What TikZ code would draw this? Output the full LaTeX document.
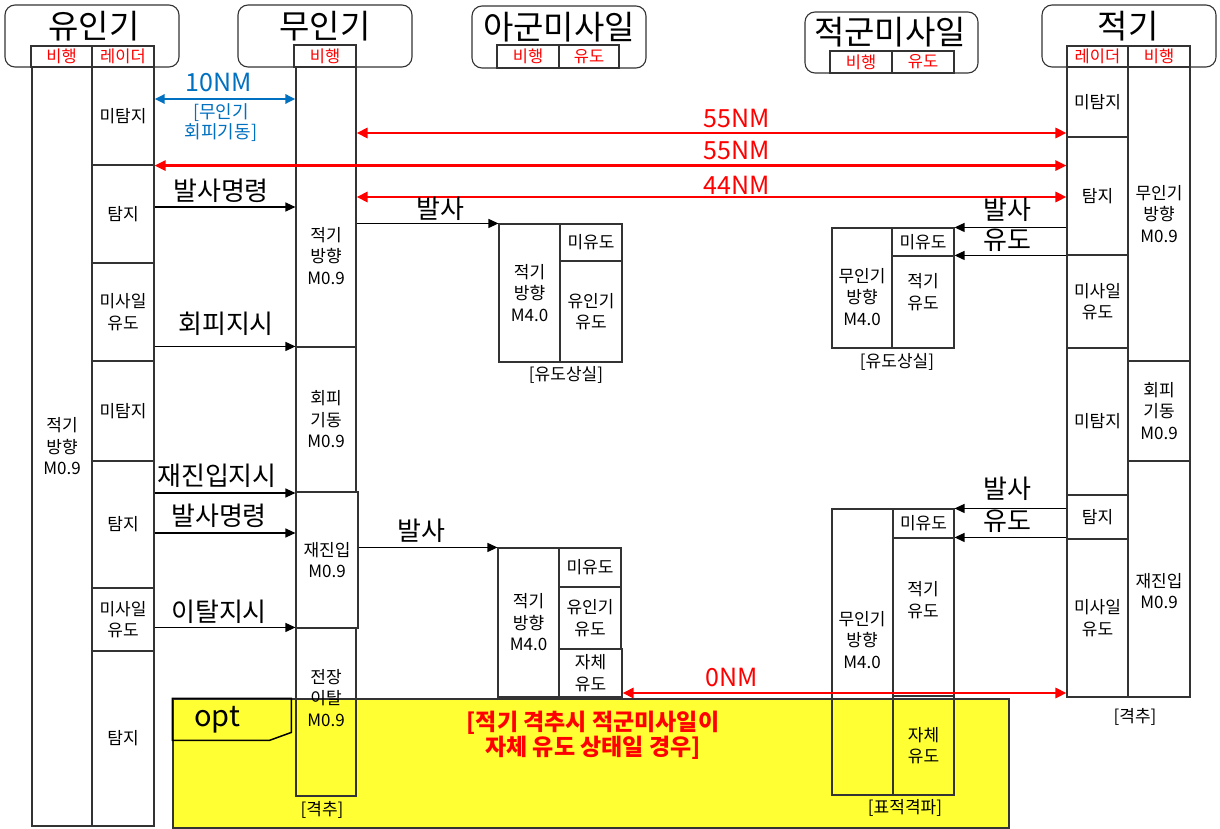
\documentclass[tikz,border=0pt]{standalone}
\usepackage{fontspec}
\setmainfont{Noto Sans CJK KR}
\usetikzlibrary{arrows.meta}
\definecolor{myred}{RGB}{255,0,0}
\definecolor{myblue}{RGB}{0,112,192}
\definecolor{myyellow}{RGB}{255,255,51}
\newcommand\fs[2]{\fontsize{#1}{#2}\selectfont}
\newcommand\mkbox[7][]{\node[box,#1,minimum width={(#5)-(#3)},minimum height={(#6)-(#4)}] (#2) at ({((#3)+(#5))/2},{((#4)+(#6))/2}) {#7};}
\tikzset{
  box/.style={draw=black!80, line width=1.1pt, inner sep=0pt, align=center, font=\fs{17}{21.5}},
  hdr/.style={rounded corners=10pt},
  sub/.style={text=myred, font=\fs{16.5}{18}},
  htext/.style={font=\fs{33}{36}, inner sep=0pt},
  txt/.style={font=\fs{17}{21.5}, inner sep=0pt, align=center},
  lbl/.style={font=\fs{26}{28}, inner sep=0pt},
  rlbl/.style={font=\fs{25}{27}, text=myred, inner sep=0pt},
  arr/.style={draw=black, line width=1.2pt, -{Triangle[length=10pt,width=9pt]}},
  rarr/.style={draw=myred, line width=2.8pt, {Triangle[length=11pt,width=10pt]}-{Triangle[length=11pt,width=10pt]}},
  barr/.style={draw=myblue, line width=2.6pt, {Triangle[length=10pt,width=9pt]}-{Triangle[length=10pt,width=9pt]}},
}
\begin{document}
\begin{tikzpicture}[x=1pt,y=-1pt]
\fill[white] (0,0) rectangle (1220,829);
\useasboundingbox (0,0) rectangle (1220,829);
% opt frame
\node[fill=myyellow, draw=black!80, line width=1.2pt, minimum width=836, minimum height=129, inner sep=0pt] (optframe) at (591,763.5) {};
\draw[line width=1.5pt, black] (optframe.north west) -- ++(119,0) -- ++(0,34) -- ++(-22,8) -- ++(-97,0) -- cycle;
\node[font=\fs{29}{30}, inner sep=0pt] (optt) at (217,720) {opt};
\node[font=\fs{23}{25}\bfseries, text=myred, align=center, inner sep=0pt] (cond) at (593,735) {[적기 격추시 적군미사일이\\자체 유도 상태일 경우]};
% headers
\mkbox[hdr]{hU}{5}{5}{179}{67}{}
\mkbox[hdr]{hM}{238}{5}{412}{67}{}
\mkbox[hdr]{hA}{472}{6}{646}{68}{}
\mkbox[hdr]{hE}{805}{12}{978}{73}{}
\mkbox[hdr]{hT}{1042}{5}{1216}{67}{}
\node[htext] (hUt) at (94,26) {유인기};
\node[htext] (hMt) at (325,26) {무인기};
\node[htext] (hAt) at (559,27) {아군미사일};
\node[htext] (hEt) at (890,32) {적군미사일};
\node[htext] (hTt) at (1128,26) {적기};
\mkbox[sub]{sU1}{31}{46}{92}{67}{비행}
\mkbox[sub]{sU2}{92}{46}{154}{67}{레이더}
\mkbox[sub]{sM1}{294}{45}{356}{67}{비행}
\mkbox[sub]{sA1}{497}{45}{559}{68}{비행}
\mkbox[sub]{sA2}{559}{45}{619}{68}{유도}
\mkbox[sub]{sE1}{830}{51}{892}{73}{비행}
\mkbox[sub]{sE2}{892}{51}{954}{73}{유도}
\mkbox[sub]{sT1}{1067}{46}{1128}{67}{레이더}
\mkbox[sub]{sT2}{1128}{46}{1190}{67}{비행}
% 유인기
\mkbox{uF}{32}{67}{92}{826}{적기\\방향\\M0.9}
\mkbox{uR1}{92}{67}{154}{165}{미탐지}
\mkbox{uR2}{92}{165}{154}{263}{탐지}
\mkbox{uR3}{92}{263}{154}{361}{미사일\\유도}
\mkbox{uR4}{92}{361}{154}{461}{미탐지}
\mkbox{uR5}{92}{461}{154}{588}{탐지}
\mkbox{uR6}{92}{588}{154}{651}{미사일\\유도}
\mkbox{uR7}{92}{651}{154}{826}{탐지}
% 무인기
\mkbox{m1}{296}{67}{356}{347}{}
\node[txt] (m1t) at (326,256) {적기\\방향\\M0.9};
\mkbox{m2}{296}{347}{356}{492}{회피\\기동\\M0.9}
\mkbox{m3}{296}{492}{358}{628}{재진입\\M0.9}
\mkbox{m4}{296}{628}{356}{796}{}
\node[txt] (m4t) at (326,698) {전장\\이탈\\M0.9};
\node[txt] (m4c) at (322,810) {[격추]};
% 아군미사일 upper
\mkbox{a1L}{499}{224}{560}{362}{적기\\방향\\M4.0}
\mkbox{a1U}{560}{224}{622}{261}{미유도}
\mkbox{a1G}{560}{261}{622}{362}{유인기\\유도}
\node[txt] (a1c) at (566,375) {[유도상실]};
% 아군미사일 lower
\mkbox{a2L}{498}{548}{559}{697}{적기\\방향\\M4.0}
\mkbox{a2U}{559}{548}{621}{587}{미유도}
\mkbox{a2G}{559}{587}{621}{649}{유인기\\유도}
\mkbox{a2S}{559}{649}{622}{697}{자체\\유도}
% 적군미사일 upper
\mkbox{e1L}{832}{228}{892}{348}{}
\node[txt] (e1Lt) at (862,297) {무인기\\방향\\M4.0};
\mkbox{e1U}{892}{228}{954}{256}{미유도}
\mkbox{e1G}{892}{256}{954}{348}{}
\node[txt] (e1Gt) at (923,292) {적기\\유도};
\node[txt] (e1c) at (897,362) {[유도상실]};
% 적군미사일 lower
\mkbox{e2L}{832}{509}{893}{795}{}
\node[txt] (e2Lt) at (862,640) {무인기\\방향\\M4.0};
\mkbox{e2U}{893}{509}{954}{538}{미유도}
\mkbox{e2G}{893}{538}{954}{696}{}
\node[txt] (e2Gt) at (923,600) {적기\\유도};
\mkbox{e2S}{893}{696}{954}{795}{자체\\유도}
\node[txt] (e2c) at (905,808) {[표적격파]};
% 적기
\mkbox{tR1}{1067}{67}{1128}{137}{미탐지}
\mkbox{tR2}{1067}{137}{1128}{255}{탐지}
\mkbox{tR3}{1067}{255}{1128}{348}{미사일\\유도}
\mkbox{tR4}{1067}{348}{1128}{495}{미탐지}
\mkbox{tR5}{1067}{495}{1128}{539}{탐지}
\mkbox{tR6}{1067}{539}{1128}{697}{미사일\\유도}
\mkbox{tF1}{1128}{67}{1190}{361}{무인기\\방향\\M0.9}
\mkbox{tF2}{1128}{361}{1190}{461}{회피\\기동\\M0.9}
\mkbox{tF3}{1128}{461}{1190}{697}{}
\node[txt] (tF3t) at (1159,591) {재진입\\M0.9};
\node[txt] (tc) at (1135,717) {[격추]};
% blue arrow
\draw[barr] (uR1.east |- 0,99) -- (m1.west |- 0,99);
\node[font=\fs{25}{27}, text=myblue, inner sep=0pt] (l10) at (219,83) {10NM};
\node[txt, text=myblue, font=\fs{18}{20}] (l10b) at (221,123) {[무인기\\회피기동]};
% red arrows
\draw[rarr] (m1.east |- 0,133) -- (tR1.west |- 0,133);
\draw[rarr] (uR1.south east) -- (tR2.west |- uR1.south);
\draw[rarr] (m1.east |- 0,197) -- (tR2.west |- 0,197);
\draw[rarr] (a2S.east |- 0,693) -- (tR6.west |- 0,693);
\node[rlbl] (r1) at (737,119) {55NM};
\node[rlbl] (r2) at (737,151) {55NM};
\node[rlbl] (r3) at (737,185) {44NM};
\node[rlbl] (r4) at (732,677) {0NM};
% black arrows
\draw[arr] (uR2.east |- 0,207) -- (m1.west |- 0,207);
\draw[arr] (m1.east |- a1L.north) -- (a1L.north west);
\draw[arr] (uR3.east |- m2.north) -- (m2.north west);
\draw[arr] (uR5.east |- 0,493) -- (m3.west |- 0,493);
\draw[arr] (uR5.east |- 0,533) -- (m3.west |- 0,533);
\draw[arr] (m3.east |- a2L.north) -- (a2L.north west);
\draw[arr] (uR6.east |- m4.north) -- (m4.north west);
\draw[arr] (tR2.west |- e1U.north) -- (e1U.north east);
\draw[arr] (tR3.west |- e1G.north) -- (e1G.north east);
\draw[arr] (tR5.west |- e2U.north) -- (e2U.north east);
\draw[arr] (tR5.west |- e2G.north) -- (e2G.north east);
\node[lbl] (b1) at (221,191) {발사명령};
\node[lbl] (b2) at (440,209) {발사};
\node[lbl] (b3) at (226,324) {회피지시};
\node[lbl] (b4) at (217,476) {재진입지시};
\node[lbl] (b5) at (219,516) {발사명령};
\node[lbl] (b6) at (421,531) {발사};
\node[lbl] (b7) at (219,612) {이탈지시};
\node[lbl] (b8) at (1007,210) {발사};
\node[lbl] (b9) at (1007,240) {유도};
\node[lbl] (b10) at (1007,489) {발사};
\node[lbl] (b11) at (1007,521) {유도};
\end{tikzpicture}
\end{document}
